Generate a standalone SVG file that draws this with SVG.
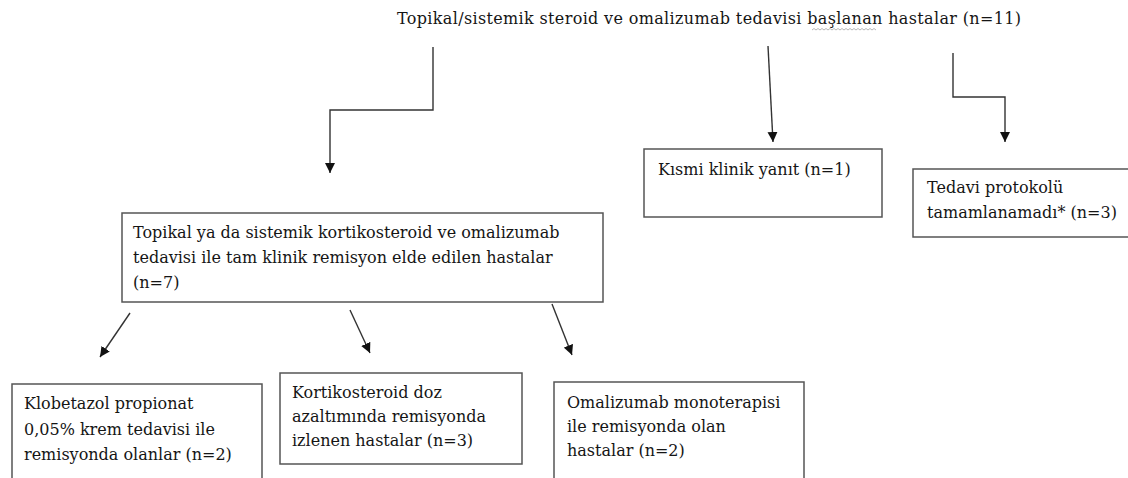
<svg xmlns="http://www.w3.org/2000/svg" width="1128" height="478" viewBox="0 0 1128 478">
<style>
text{font-family:"DejaVu Serif","Liberation Serif",serif;font-size:16px;fill:#151515}
.box{fill:#fff;stroke:#555;stroke-width:1.5}
.con{fill:none;stroke:#333;stroke-width:1.4}
</style>
<defs>
<marker id="ah" viewBox="0 0 10 10" refX="10" refY="5" markerWidth="10" markerHeight="10" markerUnits="userSpaceOnUse" orient="auto">
<path d="M0,0 L10,5 L0,10 Z" fill="#111"/>
</marker>
</defs>
<rect width="1128" height="478" fill="#fff"/>
<g id="title">
<text x="397" y="24" textLength="624">Topikal/sistemik steroid ve omalizumab tedavisi başlanan hastalar (n=11)</text>
<path d="M812,30 l2,-1.5 l2,1.5 l2,-1.5 l2,1.5 l2,-1.5 l2,1.5 l2,-1.5 l2,1.5 l2,-1.5 l2,1.5 l2,-1.5 l2,1.5 l2,-1.5 l2,1.5 l2,-1.5 l2,1.5 l2,-1.5 l2,1.5 l2,-1.5 l2,1.5 l2,-1.5 l2,1.5 l2,-1.5 l2,1.5 l2,-1.5 l2,1.5 l2,-1.5 l2,1.5 l2,-1.5 l2,1.5 l2,-1.5 l2,1.5" fill="none" stroke="#999" stroke-width="0.7"/>
</g>
<g id="connectors">
<path class="con" d="M433,47 V110 H330 V173" marker-end="url(#ah)"/>
<path class="con" d="M768,46 L773,142" marker-end="url(#ah)"/>
<path class="con" d="M953,53 V97 H1005 V142" marker-end="url(#ah)"/>
<path class="con" d="M130,313 L100,357" marker-end="url(#ah)"/>
<path class="con" d="M350,310 L370,353" marker-end="url(#ah)"/>
<path class="con" d="M552,304 L572,355" marker-end="url(#ah)"/>
</g>
<g id="partial">
<rect class="box" x="644" y="149" width="238" height="68"/>
<text x="658" y="175">Kısmi klinik yanıt (n=1)</text>
</g>
<g id="incomplete">
<rect class="box" x="913" y="169" width="230" height="68"/>
<text x="927" y="193">Tedavi protokolü</text>
<text x="927" y="218">tamamlanamadı* (n=3)</text>
</g>
<g id="remission">
<rect class="box" x="122" y="213" width="481" height="89"/>
<text x="133" y="238">Topikal ya da sistemik kortikosteroid ve omalizumab</text>
<text x="133" y="263">tedavisi ile tam klinik remisyon elde edilen hastalar</text>
<text x="133" y="288">(n=7)</text>
</g>
<g id="clobetasol">
<rect class="box" x="12" y="384" width="250" height="100"/>
<text x="24" y="409">Klobetazol propionat</text>
<text x="24" y="435">0,05% krem tedavisi ile</text>
<text x="24" y="460">remisyonda olanlar (n=2)</text>
</g>
<g id="dosereduction">
<rect class="box" x="280" y="373" width="242" height="91"/>
<text x="292" y="398">Kortikosteroid doz</text>
<text x="292" y="422">azaltımında remisyonda</text>
<text x="292" y="446">izlenen hastalar (n=3)</text>
</g>
<g id="omalizumab">
<rect class="box" x="554" y="382" width="250" height="110"/>
<text x="567" y="408">Omalizumab monoterapisi</text>
<text x="567" y="432">ile remisyonda olan</text>
<text x="567" y="456">hastalar (n=2)</text>
</g>
</svg>
